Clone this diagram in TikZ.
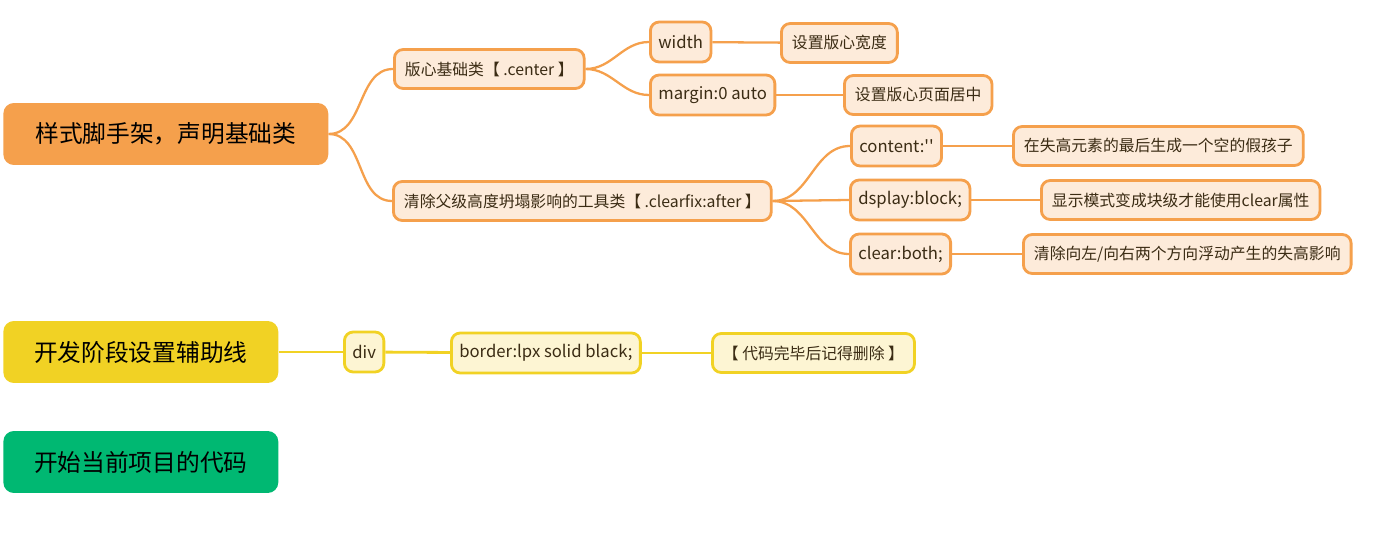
\documentclass[tikz,border=0pt]{standalone}
\usepackage{fontspec}
\setmainfont{Noto Sans CJK SC}
\newfontfamily\rawfont{Noto Sans CJK SC}
\usetikzlibrary{positioning}
\definecolor{orangemain}{HTML}{F5A04C}
\definecolor{orangelight}{HTML}{FDEBDA}
\definecolor{yellowmain}{HTML}{F1D224}
\definecolor{yellowlight}{HTML}{FDF5D3}
\definecolor{greenmain}{HTML}{00B872}
\definecolor{textbrown}{HTML}{3B2C14}

\begin{document}
\begin{tikzpicture}[
    x=0.02cm, y=-0.02cm,
    root/.style={rounded corners=6pt, anchor=west, align=center, minimum height=1.24cm, text=black, font=\fontsize{13.5}{16}\selectfont},
    nd/.style={draw, rounded corners=5pt, line width=1.6pt, anchor=west, minimum height=0.78cm, inner xsep=6pt, text=textbrown, font=\fontsize{9}{11}\selectfont},
    onode/.style={nd, draw=orangemain, fill=orangelight},
    ynode/.style={nd, draw=yellowmain, fill=yellowlight},
    prop/.style={font=\fontsize{9.5}{11}\selectfont, minimum height=0.8cm, inner xsep=4.5pt},
    olink/.style={draw=orangemain, line width=1.3pt},
    ylink/.style={draw=yellowmain, line width=1.6pt}
]
\useasboundingbox (0,0) rectangle (1380,540);

% roots
\node[root, fill=orangemain, minimum width=6.5cm] (style) at (3,134) {样式脚手架，声明基础类};
\node[root, fill=yellowmain, minimum width=5.5cm] (dev) at (3,352) {开发阶段设置辅助线};
\node[root, fill=greenmain, minimum width=5.5cm] (start) at (3,462) {开始当前项目的代码};

% orange branch
\node[onode] (center) at (393,69) {版心基础类【 .center 】};
\node[onode] (clearfix) at (392,201) {清除父级高度坍塌影响的工具类【 .clearfix:after 】};

\node[onode, prop] (width) at (649,42) {width};
\node[onode, prop] (margin) at (649,95) {margin:0 auto};
\node[onode, prop] (content) at (850,146) {content:{\rawfont''}};
\node[onode, prop] (display) at (849,200) {dsplay:block;};
\node[onode, prop] (clear) at (849,254) {clear:both;};

\node[onode] (widthtxt) at (780,43) {设置版心宽度};
\node[onode] (margintxt) at (843,95) {设置版心页面居中};
\node[onode] (contenttxt) at (1012,146) {在失高元素的最后生成一个空的假孩子};
\node[onode] (displaytxt) at (1040,200) {显示模式变成块级才能使用clear属性};
\node[onode] (cleartxt) at (1022,254) {清除向左/向右两个方向浮动产生的失高影响};

\draw[olink] (style.east) to[out=0, in=180] (center.west);
\draw[olink] (style.east) to[out=0, in=180] (clearfix.west);
\draw[olink] (center.east) to[out=0, in=180] (width.west);
\draw[olink] (center.east) to[out=0, in=180] (margin.west);
\draw[olink] (clearfix.east) to[out=0, in=180] (content.west);
\draw[olink] (clearfix.east) -- (display.west);
\draw[olink] (clearfix.east) to[out=0, in=180] (clear.west);
\draw[olink] (width) -- (widthtxt);
\draw[olink] (margin) -- (margintxt);
\draw[olink] (content) -- (contenttxt);
\draw[olink] (display) -- (displaytxt);
\draw[olink] (clear) -- (cleartxt);

% yellow branch
\node[ynode, prop] (div) at (343,352) {div};
\node[ynode, prop] (border) at (450,353) {border:lpx solid black;};
\node[ynode] (remove) at (711,353) {【 代码完毕后记得删除 】};

\draw[ylink] (dev) -- (div);
\draw[ylink] (div) -- (border);
\draw[ylink] (border) -- (remove);
\end{tikzpicture}
\end{document}
